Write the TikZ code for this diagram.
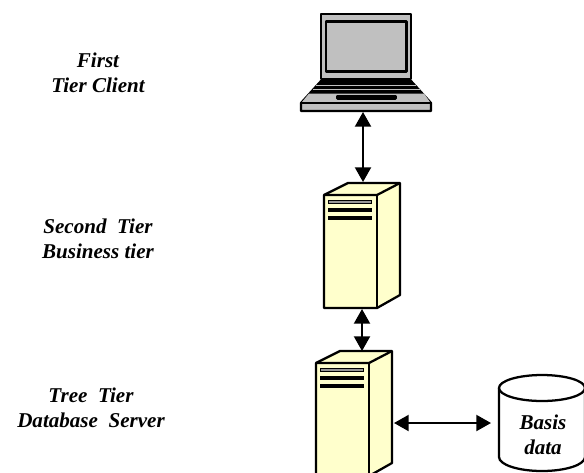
\documentclass[tikz,border=0pt]{standalone}
\usepackage{fontspec}
\setmainfont{Liberation Serif}
\usetikzlibrary{arrows.meta, positioning}
\definecolor{serveryellow}{HTML}{FFFFCC}
\definecolor{laptopgray}{HTML}{C0C0C0}
\definecolor{bargray}{HTML}{969696}
\tikzset{
  tierlabel/.style={align=center, font=\bfseries\itshape\fontsize{15.8}{18.8}\selectfont, inner sep=0pt},
  outline/.style={draw=black, line width=1.7, line join=round},
  connector/.style={line width=1.5, {Triangle[length=11pt,width=12pt]}-{Triangle[length=11pt,width=12pt]}},
}
\newcommand{\tierserver}{
  \draw[outline, fill=serveryellow] (324,195) -- (348,183) -- (400,183) -- (400,295) -- (377,308) -- (324,308) -- cycle;
  \draw[outline] (324,195) -- (377,195) -- (400,183);
  \draw[outline] (377,195) -- (377,308);
  \draw[draw=black, fill=bargray, line width=1] (328.5,200.5) rectangle (371.5,203.5);
  \draw[draw=black, fill=black, line width=1] (328.5,208.5) rectangle (371.5,211.5);
  \draw[draw=black, fill=black, line width=1] (328.5,216.5) rectangle (371.5,219.5);
}
\begin{document}
\begin{tikzpicture}[x=0.75pt, y=-0.75pt]
  \clip (0,0) rectangle (584,472);
  \fill[white] (0,0) rectangle (584,472);

  % Laptop
  \draw[outline, fill=laptopgray] (321,14) rectangle (411,79);
  \draw[outline, fill=laptopgray] (326,21.5) rectangle (406.5,71.5);
  \draw[outline, fill=laptopgray] (321,81) -- (411,81) -- (431,103) -- (431,111) -- (301,111) -- (301,103) -- cycle;
  \fill[black] (321,81) -- (411,81) -- (424,95) -- (309,95) -- cycle;
  \draw[laptopgray, line width=0.8] (316,85.5) -- (416,85.5);
  \draw[laptopgray, line width=0.8] (313,89.5) -- (420,89.5);
  \fill[laptopgray] (309,93.5) -- (424,93.5) -- (430,102) -- (302,102) -- cycle;
  \draw[outline] (301,103) -- (431,103);
  \draw[outline, fill=black] (337.5,96) rectangle (395.5,98.5);

  % Servers
  \begin{scope}
    \tierserver
  \end{scope}
  \begin{scope}[shift={(-8,168)}]
    \tierserver
  \end{scope}

  % Database
  \draw[outline, fill=white] (499,388) -- (499,457) arc[start angle=180, end angle=0, x radius=43, y radius=14] -- (585,388);
  \draw[outline, fill=white] (542,388) ellipse[x radius=43, y radius=13];

  % Labels
  \node[tierlabel] (first) at (98,73) {First\\Tier Client};
  \node[tierlabel] (second) at (98,239) {Second~ Tier\\Business tier};
  \node[tierlabel] (third) at (91,408) {Tree~ Tier\\Database~ Server};
  \node[tierlabel] (basis) at (543,435) {Basis\\data};

  % Connectors
  \coordinate (laptopport) at (363,112);
  \coordinate (businesstop) at (363,182);
  \coordinate (businessbottom) at (362,309);
  \coordinate (servertop) at (362,351);
  \coordinate (serverside) at (394,423);
  \coordinate (basisside) at (491,423);
  \draw[connector] (laptopport) -- (businesstop);
  \draw[connector] (businessbottom) -- (servertop);
  \draw[connector] (serverside) -- (basisside);
\end{tikzpicture}
\end{document}
